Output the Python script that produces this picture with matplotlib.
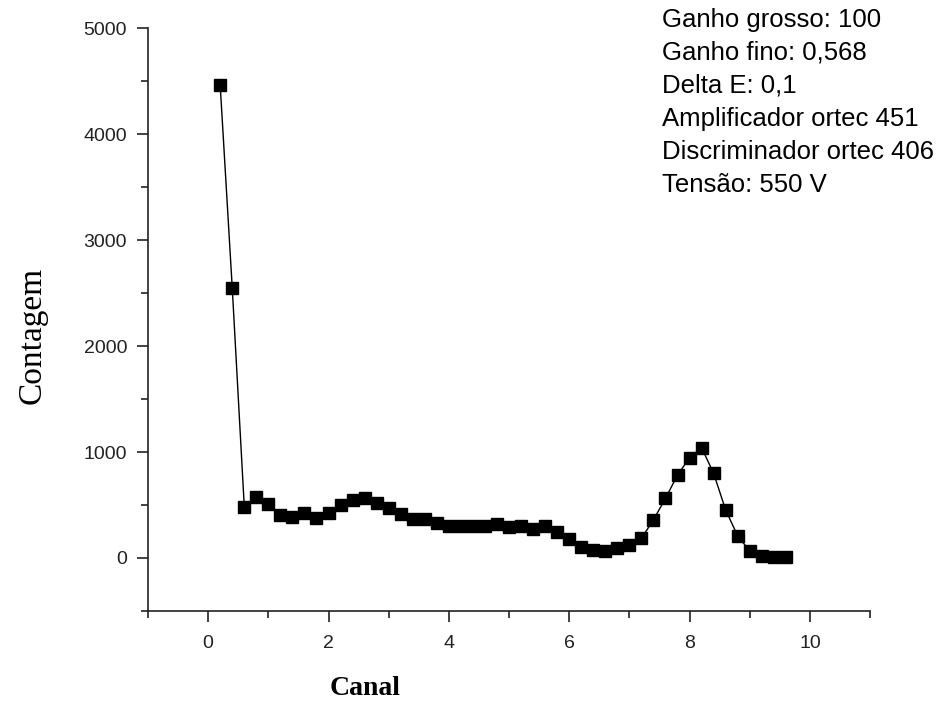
import numpy as np
import matplotlib
matplotlib.use('Agg')
import matplotlib.pyplot as plt
from matplotlib.ticker import MultipleLocator

# Channel and counts
canal = np.round(np.arange(0.2, 9.61, 0.2), 1)
contagem = [4460, 2550, 485, 575, 510, 410, 390, 420, 378, 420,
            497, 547, 570, 516, 475, 412, 365, 365, 333, 302,
            302, 302, 302, 318, 290, 300, 271, 302, 248, 182,
            107, 75, 69, 91, 123, 186, 360, 563, 783, 946,
            1041, 799, 453, 208, 66, 22, 10, 8]

info_lines = ['Ganho grosso: 100', 'Ganho fino: 0,568', 'Delta E: 0,1',
              'Amplificador ortec 451', 'Discriminador ortec 406',
              'Tensão: 550 V']

plt.rcParams['font.family'] = ['Liberation Sans', 'DejaVu Sans']

fig = plt.figure(figsize=(9.53, 7.06), dpi=100)
ax = fig.add_axes([0.1553, 0.1346, 0.7577, 0.8254])

ax.plot(canal, contagem, color='black', lw=1.0, marker='s',
        markersize=8, markerfacecolor='black', markeredgecolor='black')

ax.set_xlim(-1, 11)
ax.set_ylim(-500, 5000)
ax.xaxis.set_major_locator(MultipleLocator(2))
ax.xaxis.set_minor_locator(MultipleLocator(1))
ax.yaxis.set_major_locator(MultipleLocator(1000))
ax.yaxis.set_minor_locator(MultipleLocator(500))

for side in ['top', 'right']:
    ax.spines[side].set_visible(False)
for side in ['left', 'bottom']:
    ax.spines[side].set_linewidth(1.2)
    ax.spines[side].set_color('#222222')

ax.tick_params(which='major', direction='out', length=8, width=1.2,
               labelsize=14, pad=7, colors='#222222')
ax.tick_params(which='minor', direction='out', length=5, width=1.2,
               colors='#222222')
ax.tick_params(axis='x', pad=9)

fig.text(0.034, 0.525, 'Contagem', rotation=90, ha='center', va='center',
         family='Liberation Serif', fontsize=24)
fig.text(0.383, 0.025, 'Canal', ha='center', va='center',
         family='Liberation Serif', fontweight='bold', fontsize=20)

for i, line in enumerate(info_lines):
    fig.text(0.695, 0.972 - i * 0.0467, line, ha='left', va='center',
             fontsize=18.5)

fig.savefig('out.png', dpi=100)
